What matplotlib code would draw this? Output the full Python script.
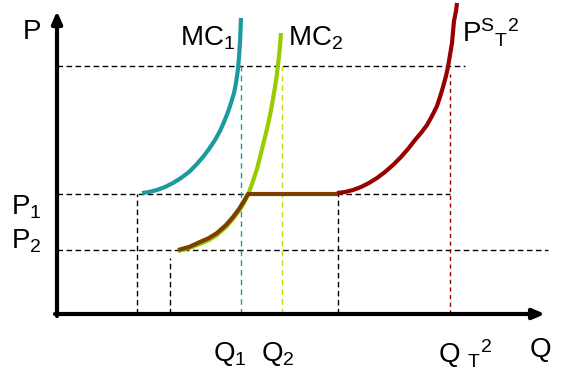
import matplotlib
matplotlib.use('Agg')
import matplotlib.pyplot as plt

plt.rcParams['font.family'] = ['Liberation Sans', 'DejaVu Sans']
plt.rcParams['mathtext.fontset'] = 'custom'
plt.rcParams['mathtext.rm'] = 'Liberation Sans'
plt.rcParams['mathtext.it'] = 'Liberation Sans'
plt.rcParams['mathtext.bf'] = 'Liberation Sans:bold'

# price levels
P_top = 248
P1 = 120
P2 = 64
# quantity levels
Q_a = 80
Q_b = 113
Q1 = 184
Q2 = 225
Q_c = 281
QT2 = 393

# curves (Q, P)
mc1_q = [85, 92, 100, 108, 116, 124, 132, 139, 146, 152, 158, 163, 167, 171, 174, 177, 179, 181, 182, 183, 184]
mc1_p = [121, 122, 124, 127, 131, 136, 142, 149, 157, 165, 174, 183, 192, 202, 211, 221, 231, 245, 257, 272, 296]

mc2_q = [121, 132, 143, 152, 160, 169, 176, 182, 187, 191, 196, 200, 203, 206, 209, 212, 214, 216, 218, 219, 220.5, 222, 223, 224]
mc2_p = [63, 66, 70, 74, 79, 87, 95, 103, 111, 119, 133, 145, 157, 169, 181, 194, 204, 215, 227, 233, 245, 258, 268, 281]

brown_q = [121, 132, 143, 152, 160, 169, 176, 182, 187, 191, 281]
brown_p = [64, 67, 72, 76, 81, 89, 97, 105, 113, 120, 120]

pst_q = [280, 288, 296, 304, 312, 320, 328, 336, 344, 351, 358, 364, 370, 375, 380, 383, 386, 389, 391, 393, 395, 396, 397, 399, 400]
pst_p = [121, 122, 124, 127, 131, 136, 142, 149, 157, 165, 174, 181, 189, 198, 208, 217, 227, 238, 247, 259, 271, 282, 293, 303, 311]

Q_max = 488
P_max = 303

teal = '#1b9aa0'
green = '#99cc00'
brown = '#7b3f00'
red = '#990000'

fig = plt.figure(figsize=(5.79, 3.91), dpi=100)
ax = fig.add_axes([0, 0, 1, 1])
ax.set_xlim(-57, 522)
ax.set_ylim(-77, 314)
ax.axis('off')

dash = dict(lw=1, dashes=(4, 2.5))

# black guide lines
ax.plot([0, 408], [P_top, P_top], color='black', **dash)
ax.plot([0, QT2], [P1, P1], color='black', **dash)
ax.plot([0, 491], [P2, P2], color='black', **dash)
ax.plot([Q_a, Q_a], [0, P1], color='black', **dash)
ax.plot([Q_b, Q_b], [0, 56], color='black', **dash)
ax.plot([Q_c, Q_c], [0, P1], color='black', **dash)

# coloured guide lines
ax.plot([Q1, Q1], [0, P_top], color=teal, lw=1, dashes=(4, 3))
ax.plot([Q2, Q2], [0, P_top], color='#c8d800', lw=1, dashes=(4, 3))
ax.plot([QT2, QT2], [0, P_top - 8], color=red, lw=1, dashes=(3, 2.5))

# curves
kw = dict(lw=3, solid_capstyle='butt', solid_joinstyle='round')
ax.plot(mc1_q, mc1_p, color=teal, **kw)
ax.plot(mc2_q, mc2_p, color=green, **kw)
ax.plot(brown_q, brown_p, color=brown, **kw)
ax.plot(pst_q, pst_p, color=red, **kw)

# axes with arrows
ax.annotate('', xy=(Q_max, 0), xytext=(-2, 0),
            arrowprops=dict(arrowstyle='-|>,head_length=0.7,head_width=0.3',
                            lw=3, color='black', shrinkA=0, shrinkB=0))
ax.annotate('', xy=(0, P_max), xytext=(0, -2),
            arrowprops=dict(arrowstyle='-|>,head_length=0.7,head_width=0.3',
                            lw=3, color='black', shrinkA=0, shrinkB=0))

fs = 20
ax.text(-34, 282, 'P', fontsize=fs, va='center')
ax.text(473, -36, 'Q', fontsize=fs, va='center')
ax.text(123, 276, r'MC$_1$', fontsize=fs, va='center')
ax.text(231, 276, r'MC$_2$', fontsize=fs, va='center')
ax.text(405, 281, r'P$^{S}$$_{T}$$^{2}$', fontsize=fs, va='center')
ax.text(-46, 107, r'P$_1$', fontsize=fs, va='center')
ax.text(-46, 73, r'P$_2$', fontsize=fs, va='center')
ax.text(156, -40, r'Q$_1$', fontsize=fs, va='center')
ax.text(204, -40, r'Q$_2$', fontsize=fs, va='center')
ax.text(381, -40, r'Q $_{T}$$^{2}$', fontsize=fs, va='center')

fig.savefig('out.png', dpi=100)
